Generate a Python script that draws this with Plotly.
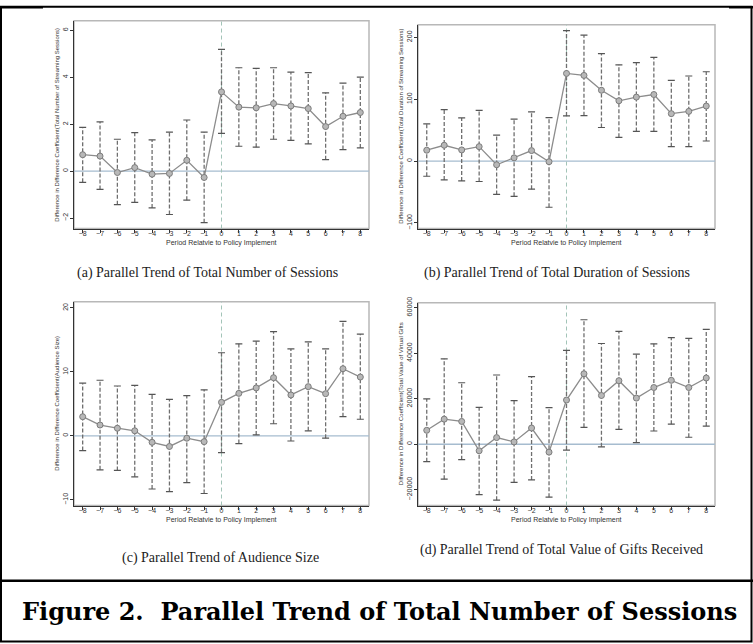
import plotly.graph_objects as go

W, H = 753, 644

periods = list(range(-8, 9))
x_ticktext = ["\u22128", "\u22127", "\u22126", "\u22125", "\u22124", "\u22123", "\u22122", "\u22121",
              "0", "1", "2", "3", "4", "5", "6", "7", "8"]

a_coef = [0.70, 0.64, -0.06, 0.15, -0.13, -0.10, 0.46, -0.27, 3.38, 2.73, 2.70, 2.88, 2.78, 2.67, 1.90, 2.34, 2.50]
a_hi = [1.87, 2.10, 1.36, 1.64, 1.33, 1.66, 2.18, 1.66, 5.19, 4.41, 4.38, 4.41, 4.22, 4.20, 3.34, 3.75, 4.01]
a_lo = [-0.48, -0.78, -1.43, -1.33, -1.57, -1.85, -1.24, -2.20, 1.61, 1.06, 1.02, 1.36, 1.31, 1.16, 0.49, 0.92, 0.99]
a_yticks = [-2, 0, 2, 4, 6]
a_yticktext = ["\u22122", "0", "2", "4", "6"]

b_coef = [17.6, 25.6, 18.1, 23.4, -5.9, 5.3, 17.0, -1.0, 141.7, 138.5, 114.5, 97.5, 103.4, 107.6, 76.7, 80.4, 89.0]
b_hi = [60.2, 83.1, 69.8, 82.0, 42.0, 67.7, 79.4, 70.3, 211.0, 203.5, 173.7, 155.6, 159.3, 167.8, 130.5, 137.5, 144.4]
b_lo = [-24.5, -30.4, -32.0, -33.0, -53.8, -57.0, -45.3, -74.6, 73.0, 73.5, 54.3, 38.4, 48.0, 48.0, 23.4, 23.4, 32.5]
b_yticks = [-100, 0, 100, 200]
b_yticktext = ["\u2212100", "0", "100", "200"]

c_coef = [3.0, 1.7, 1.2, 0.8, -1.0, -1.65, -0.36, -0.9, 5.25, 6.65, 7.5, 9.1, 6.4, 7.7, 6.6, 10.5, 9.2]
c_hi = [8.25, 8.7, 7.8, 7.9, 6.5, 5.7, 6.3, 7.2, 13.0, 14.4, 14.8, 16.3, 13.6, 14.7, 13.6, 17.9, 15.9]
c_lo = [-2.3, -5.3, -5.4, -6.4, -8.3, -8.7, -7.3, -9.0, -2.6, -1.2, 0.15, 1.9, -0.8, 0.8, -0.35, 3.0, 2.6]
c_yticks = [-10, 0, 10, 20]
c_yticktext = ["\u221210", "0", "10", "20"]

d_coef = [6100, 11000, 10000, -2900, 2900, 1000, 7100, -3500, 19400, 30950, 21400, 27900, 20250, 24900, 28050, 24900, 29100]
d_hi = [19900, 37500, 27000, 16200, 30400, 19100, 29700, 16100, 41200, 54700, 44250, 49600, 39600, 44100, 46850, 46550, 50450]
d_lo = [-7700, -15400, -6800, -22200, -24600, -16800, -15700, -23300, -2600, 7400, -1150, 6500, 700, 5800, 8800, 3050, 7950]
d_yticks = [-20000, 0, 20000, 40000, 60000]
d_yticktext = ["\u221220000", "0", "20000", "40000", "60000"]

x_title = "Period Relatvie to Policy Implement"
y_titles = [
    "Difference in Difference Coefficient(Total Number of Streaming Sessions)",
    "Difference in Difference Coefficient(Total Duration of Streaming Sessions)",
    "Difference in Difference Coefficient(Audience Size)",
    "Difference in Difference Coefficient(Total Value of Virtual Gifts",
]
subcaptions = [
    "(a) Parallel Trend of Total Number of Sessions",
    "(b) Parallel Trend of Total Duration of Sessions",
    "(c) Parallel Trend of Audience Size",
    "(d) Parallel Trend of Total Value of Gifts Received",
]
figure_caption = "Figure 2.  Parallel Trend of Total Number of Sessions"

# layout geometry (pixels)
boxes = [  # left, right, top, bottom
    (74, 369, 15, 225),
    (418, 715, 19, 225),
    (74, 369, 299, 505),
    (418, 715, 300, 505),
]
yranges = [(-2.45, 6.41), (-109, 220.3), (-10.88, 20.97), (-26960, 62170)]
subcap_y = [270, 270, 558, 550]
subcap_x = [208, 557, 220, 561]

def px_x(p):
    return p / W

def px_y(p):
    return 1 - p / H

series = [
    (a_coef, a_lo, a_hi, a_yticks, a_yticktext),
    (b_coef, b_lo, b_hi, b_yticks, b_yticktext),
    (c_coef, c_lo, c_hi, c_yticks, c_yticktext),
    (d_coef, d_lo, d_hi, d_yticks, d_yticktext),
]

fig = go.Figure()
shapes = []
annotations = []
tick_font = dict(family="Liberation Sans, Arial, sans-serif", size=7, color="#333333")

for i, (coef, lo, hi, yt, ytt) in enumerate(series):
    k = "" if i == 0 else str(i + 1)
    xa, ya = "x" + k, "y" + k
    L, R, T, B = boxes[i]

    ex, ey = [], []
    for p, l, h in zip(periods, lo, hi):
        ex += [p, p, None]
        ey += [l, h, None]
    fig.add_trace(go.Scatter(x=ex, y=ey, mode="lines", xaxis=xa, yaxis=ya,
                             line=dict(color="#6f6f6f", width=1.3, dash="4px,2px"),
                             hoverinfo="skip", showlegend=False))
    fig.add_trace(go.Scatter(x=periods + periods, y=hi + lo, mode="markers", xaxis=xa, yaxis=ya,
                             marker=dict(symbol="line-ew-open", size=5, color="#555555",
                                         line=dict(color="#555555", width=1.2)),
                             hoverinfo="skip", showlegend=False))
    fig.add_trace(go.Scatter(x=periods, y=coef, mode="lines+markers", xaxis=xa, yaxis=ya,
                             line=dict(color="#8c8c8c", width=1.3),
                             marker=dict(symbol="circle", size=6, color="#b8b8b8",
                                         line=dict(color="#7c7c7c", width=1)),
                             showlegend=False))

    fig.update_layout(**{
        ("xaxis" + k): dict(domain=[px_x(L), px_x(R)], anchor=ya, range=[-8.5, 8.5],
                            tickvals=periods, ticktext=x_ticktext, ticks="outside",
                            ticklen=3, tickwidth=1, tickcolor="#333333", ticklabelstandoff=-5,
                            showline=True, linecolor="#333333", linewidth=1,
                            showgrid=False, zeroline=False, tickfont=tick_font),
        ("yaxis" + k): dict(domain=[px_y(B), px_y(T)], anchor=xa, range=list(yranges[i]),
                            tickvals=yt, ticktext=ytt, ticks="outside", tickangle=-90,
                            ticklen=3, tickwidth=1, tickcolor="#333333", ticklabelstandoff=-1,
                            showline=True, linecolor="#333333", linewidth=1,
                            showgrid=False, zeroline=False, tickfont=tick_font),
    })

    # plot frame (top/right light gray)
    shapes.append(dict(type="rect", xref="paper", yref="paper",
                       x0=px_x(L), x1=px_x(R), y0=px_y(B), y1=px_y(T),
                       line=dict(color="#b8b8b8", width=1.5), layer="below"))
    # zero reference line
    shapes.append(dict(type="line", xref=xa + " domain", yref=ya, x0=0, x1=1, y0=0, y1=0,
                       line=dict(color="#a6bccf", width=1.4), layer="below"))
    # policy line at period 0
    shapes.append(dict(type="line", xref=xa, yref=ya + " domain", x0=0, x1=0, y0=0, y1=1,
                       line=dict(color="#a3c4b8", width=1, dash="4px,3px"), layer="below"))

    # axis titles
    annotations.append(dict(text=x_title, xref="paper", yref="paper",
                            x=px_x((L + R) / 2), y=px_y(B + 15), xanchor="center", yanchor="middle",
                            showarrow=False, font=dict(family="Liberation Sans, Arial, sans-serif",
                                                       size=7, color="#333333")))
    annotations.append(dict(text=y_titles[i], xref="paper", yref="paper",
                            x=px_x(L - 17), y=px_y((T + B) / 2), xanchor="center", yanchor="middle",
                            textangle=-90, showarrow=False,
                            font=dict(family="Liberation Sans, Arial, sans-serif",
                                      size=6, color="#333333")))
    annotations.append(dict(text=subcaptions[i], xref="paper", yref="paper",
                            x=px_x(subcap_x[i]), y=px_y(subcap_y[i]), xanchor="center", yanchor="middle",
                            showarrow=False,
                            font=dict(family="Liberation Serif, Times New Roman, serif",
                                      size=14, color="#222222")))

# outer figure frame and caption box
shapes.append(dict(type="rect", xref="paper", yref="paper",
                   x0=px_x(1), x1=px_x(751.5), y0=px_y(642.5), y1=px_y(0.8),
                   line=dict(color="#000000", width=2)))
shapes.append(dict(type="rect", xref="paper", yref="paper",
                   x0=0, x1=px_x(43), y0=px_y(2.5), y1=1,
                   line=dict(width=0), fillcolor="#000000"))
shapes.append(dict(type="rect", xref="paper", yref="paper",
                   x0=px_x(729), x1=1, y0=px_y(2.5), y1=1,
                   line=dict(width=0), fillcolor="#000000"))
shapes.append(dict(type="line", xref="paper", yref="paper",
                   x0=0, x1=1, y0=px_y(581), y1=px_y(581),
                   line=dict(color="#000000", width=2.5)))
annotations.append(dict(text="<b>" + figure_caption + "</b>", xref="paper", yref="paper",
                        x=px_x(379), y=px_y(612), xanchor="center", yanchor="middle",
                        showarrow=False,
                        font=dict(family="DejaVu Serif, Georgia, serif", size=24, color="#000000")))

fig.update_layout(width=W, height=H, margin=dict(l=0, r=0, t=0, b=0),
                  paper_bgcolor="white", plot_bgcolor="white",
                  shapes=shapes, annotations=annotations, showlegend=False)

fig.write_html("out.html", config={"displayModeBar": False},
               post_script="document.body.style.margin='0';document.body.style.padding='0';")
